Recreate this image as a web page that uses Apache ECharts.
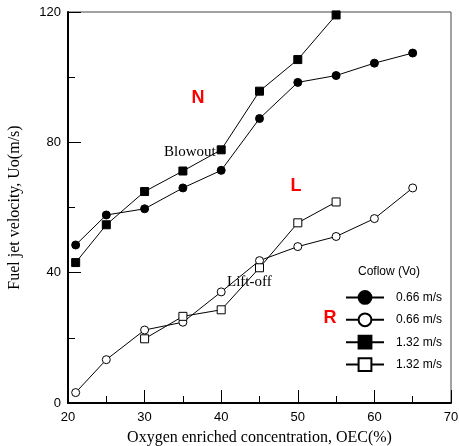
<!DOCTYPE html>
<html><head><meta charset="utf-8">
<script src="https://cdn.jsdelivr.net/npm/echarts@6/dist/echarts.min.js"></script>
<style>html,body{margin:0;padding:0;background:#fff}#c{width:459px;height:446px}</style>
</head><body><div id="c"></div>
<script>
const seriesNames = ['0.66 m/s', '0.66 m/s ', '1.32 m/s', '1.32 m/s '];
const xFilledCircle = [21, 25, 30, 35, 40, 45, 50, 55, 60, 65];
const yFilledCircle = [48.5, 57.7, 59.6, 66.0, 71.4, 87.3, 98.4, 100.5, 104.3, 107.4];
const xOpenCircle = [21, 25, 30, 35, 40, 45, 50, 55, 60, 65];
const yOpenCircle = [3.2, 13.3, 22.4, 24.8, 34.1, 43.7, 48.0, 51.1, 56.6, 66.0];
const xFilledSquare = [21, 25, 30, 35, 40, 45, 50, 55];
const yFilledSquare = [43.1, 54.7, 64.9, 71.2, 77.7, 95.7, 105.4, 119.1];
const xOpenSquare = [30, 35, 40, 45, 50, 55];
const yOpenSquare = [19.7, 26.6, 28.6, 41.5, 55.3, 61.7];
const xTicks = [20, 30, 40, 50, 60, 70];
const yTicks = [0, 40, 80, 120];

const zip = (xs, ys) => xs.map((x, i) => [x, ys[i]]);
const serif = 'Liberation Serif';
const sans = 'Liberation Sans';

function mk(name, xs, ys, symbol, filled) {
  return {
    name, type: 'line', data: zip(xs, ys), symbol, symbolSize: 8,
    lineStyle: { color: '#000', width: 1 },
    itemStyle: { color: filled ? '#000' : '#fff', borderColor: '#000', borderWidth: 1, opacity: 1 },
    emphasis: { disabled: true }, animation: false, z: filled ? 3 : 4
  };
}

const chart = echarts.init(document.getElementById('c'));
chart.setOption({
  animation: false,
  backgroundColor: '#fff',
  grid: { left: 68, right: 8, top: 12, bottom: 43, show: true, borderColor: '#444', borderWidth: 1,
    outerBoundsMode: 'none', containLabel: false },
  xAxis: {
    type: 'value', min: 20, max: 70, interval: 10,
    name: 'Oxygen enriched concentration, OEC(%)', nameLocation: 'middle', nameGap: 27,
    nameTextStyle: { fontFamily: serif, fontSize: 16, color: '#000' },
    axisLine: { onZero: false, lineStyle: { color: '#000', width: 2 } },
    axisTick: { inside: true, length: 13, lineStyle: { color: '#000', width: 1 } },
    minorTick: { show: true, splitNumber: 2, length: 7, lineStyle: { color: '#000', width: 1 } },
    splitLine: { show: false },
    axisLabel: { fontFamily: sans, fontSize: 13, color: '#000', margin: 8,
      formatter: v => xTicks.includes(v) ? String(v) : '' }
  },
  yAxis: {
    type: 'value', min: 0, max: 120, interval: 40,
    name: 'Fuel jet velocity, Uo(m/s)', nameLocation: 'middle', nameGap: 45,
    nameTextStyle: { fontFamily: serif, fontSize: 16, color: '#000' },
    axisLine: { onZero: false, lineStyle: { color: '#000', width: 2 } },
    axisTick: { inside: true, length: 13, lineStyle: { color: '#000', width: 1 } },
    minorTick: { show: true, splitNumber: 2, length: 7, lineStyle: { color: '#000', width: 1 } },
    splitLine: { show: false },
    axisLabel: { fontFamily: sans, fontSize: 13, color: '#000', margin: 7,
      formatter: v => yTicks.includes(v) ? String(v) : '' }
  },
  legend: {
    orient: 'vertical', left: 345, top: 290, padding: 0, itemWidth: 38, itemHeight: 16, itemGap: 7.6,
    data: seriesNames, selectedMode: false,
    textStyle: { fontFamily: sans, fontSize: 12, color: '#000', padding: [0, 0, 0, 7] }
  },
  graphic: [
    { type: 'text', left: 358, top: 266, style: { text: 'Coflow (Vo)', font: '12px "Liberation Sans"', fill: '#000' } },
    { type: 'text', x: 198, y: 98, style: { text: 'N', font: 'bold 18px "Liberation Sans"', fill: '#ff0000', align: 'center', verticalAlign: 'middle' } },
    { type: 'text', x: 296, y: 186, style: { text: 'L', font: 'bold 18px "Liberation Sans"', fill: '#ff0000', align: 'center', verticalAlign: 'middle' } },
    { type: 'text', x: 330, y: 318, style: { text: 'R', font: 'bold 18px "Liberation Sans"', fill: '#ff0000', align: 'center', verticalAlign: 'middle' } },
    { type: 'text', x: 164, y: 152, style: { text: 'Blowout', font: '15px "Liberation Serif"', fill: '#000', verticalAlign: 'middle' } },
    { type: 'text', x: 227, y: 282, style: { text: 'Lift-off', font: '15px "Liberation Serif"', fill: '#000', verticalAlign: 'middle' } }
  ],
  series: [
    mk(seriesNames[0], xFilledCircle, yFilledCircle, 'circle', true),
    mk(seriesNames[1], xOpenCircle, yOpenCircle, 'circle', false),
    mk(seriesNames[2], xFilledSquare, yFilledSquare, 'rect', true),
    mk(seriesNames[3], xOpenSquare, yOpenSquare, 'rect', false)
  ]
});
</script></body></html>
